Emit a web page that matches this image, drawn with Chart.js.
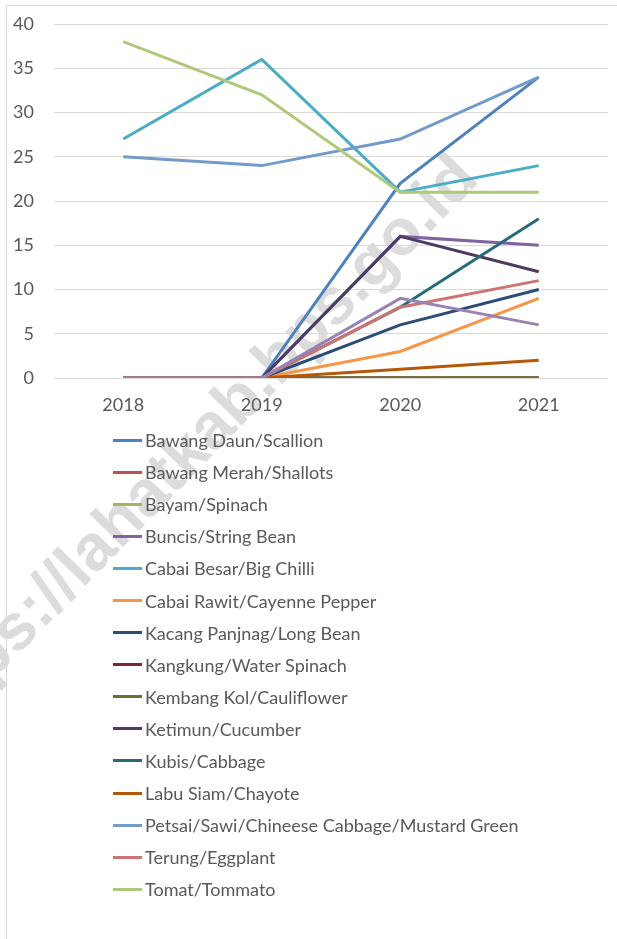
<!DOCTYPE html>
<html>
<head>
<meta charset="utf-8">
<script src="https://cdn.jsdelivr.net/npm/chart.js@4.4.1/dist/chart.umd.min.js"></script>
<style>
  html, body { margin: 0; padding: 0; background: #fff; }
  #frame {
    position: absolute; left: 6px; top: 5px; width: 640px; height: 960px;
    border: 1px solid #d9d9d9; box-sizing: border-box;
  }
  #mark {
    position: absolute; left: -62px; top: 686px;
    font: bold 65px "Liberation Sans", sans-serif; color: #dcdcdc;
    white-space: nowrap; line-height: 1;
    transform-origin: 0 100%; transform: rotate(-45.7deg);
  }
  #wrap { position: absolute; left: 0; top: 0; width: 617px; height: 425px; }
  #legend { position: absolute; left: 113px; top: 424px; margin: 0; padding: 0; list-style: none; }
  #legend li {
    height: 32.1px; display: flex; align-items: center;
    font: 18px Lato, sans-serif; color: #595959; white-space: nowrap;
  }
  #legend li span { display: inline-block; width: 29px; height: 3px; margin-right: 3px; }
</style>
</head>
<body>
<div id="mark">https://lahatkab.bps.go.id</div>
<div id="frame"></div>
<div id="wrap"><canvas id="canvas"></canvas></div>
<ul id="legend"></ul>
<script>
var years = ['2018', '2019', '2020', '2021'];

var bawangDaun    = [0, 0, 22, 34];
var bawangMerah   = [0, 0, 0, 0];
var bayam         = [0, 0, 0, 0];
var buncis        = [0, 0, 16, 15];
var cabaiBesar    = [27, 36, 21, 24];
var cabaiRawit    = [0, 0, 3, 9];
var kacangPanjang = [0, 0, 6, 10];
var kangkung      = [0, 0, 0, 0];
var kembangKol    = [0, 0, 0, 0];
var ketimun       = [0, 0, 16, 12];
var kubis         = [0, 0, 8, 18];
var labuSiam      = [0, 0, 1, 2];
var petsai        = [25, 24, 27, 34];
var terung        = [0, 0, 8, 11];
var tomat         = [38, 32, 21, 21];
var unlisted      = [0, 0, 9, 6];   // 16th series, its legend entry is cut off

var names = [
    'Bawang Daun/Scallion', 'Bawang Merah/Shallots', 'Bayam/Spinach',
    'Buncis/String Bean', 'Cabai Besar/Big Chilli', 'Cabai Rawit/Cayenne Pepper',
    'Kacang Panjnag/Long Bean', 'Kangkung/Water Spinach', 'Kembang Kol/Cauliflower',
    'Ketimun/Cucumber', 'Kubis/Cabbage', 'Labu Siam/Chayote',
    'Petsai/Sawi/Chineese Cabbage/Mustard Green', 'Terung/Eggplant', 'Tomat/Tommato', ''
];
var values = [bawangDaun, bawangMerah, bayam, buncis, cabaiBesar, cabaiRawit,
    kacangPanjang, kangkung, kembangKol, ketimun, kubis, labuSiam,
    petsai, terung, tomat, unlisted];
var colors = ['#4F81BD', '#C0504D', '#9BBB59', '#8064A2', '#4BACC6', '#F79646',
    '#2C4D75', '#772C2A', '#5F7530', '#4D3B62', '#276A7C', '#B65708',
    '#729ACA', '#CD7371', '#AFC97A', '#9983B5'];

var datasets = names.map(function(n, i) {
    return {
        label: n,
        data: values[i],
        borderColor: colors[i],
        backgroundColor: colors[i],
        borderWidth: 3,
        pointRadius: 0,
        tension: 0,
        order: names.length - i
    };
});

var lg = document.getElementById('legend');
names.forEach(function(n, i) {
    if (!n) return;
    var li = document.createElement('li');
    li.innerHTML = '<span style="background:' + colors[i] + '"></span>' + n;
    lg.appendChild(li);
});

Chart.defaults.font.family = 'Lato, sans-serif';
Chart.defaults.font.size = 18;
Chart.defaults.color = '#595959';

new Chart(document.getElementById('canvas'), {
    type: 'line',
    data: { labels: years, datasets: datasets },
    options: {
        responsive: true,
        maintainAspectRatio: false,
        animation: false,
        layout: { padding: { top: 24, right: 9, left: 0, bottom: 0 } },
        plugins: { legend: { display: false }, tooltip: { enabled: false } },
        scales: {
            x: {
                offset: true,
                grid: { display: false },
                border: { display: false },
                ticks: { padding: 8 },
                afterFit: function(s) { s.height = 47; }
            },
            y: {
                min: 0, max: 40,
                ticks: { stepSize: 5, padding: 20 },
                grid: { color: '#d9d9d9', drawTicks: false },
                border: { display: false },
                afterFit: function(s) {
                    s.width = 54;
                    s.paddingTop = 0;
                    s.paddingBottom = 0;
                }
            }
        }
    }
});
</script>
</body>
</html>
